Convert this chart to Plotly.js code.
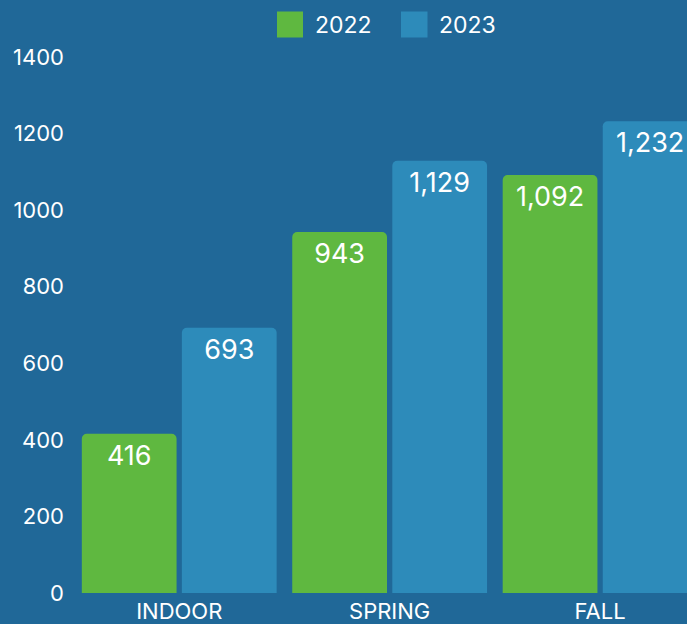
<!DOCTYPE html>
<html><head><meta charset="utf-8">
<script src="https://cdn.plot.ly/plotly-3.0.1.min.js"></script>
<style>html,body{margin:0;padding:0;background:#206898;}#chart{width:687px;height:624px;}</style>
</head><body><div id="chart"></div>
<script>
const categories = ["INDOOR", "SPRING", "FALL"];
const series2022 = [416, 943, 1092];
const series2023 = [693, 1129, 1232];
const seriesNames = ["2022", "2023"];
const yTicks = [0, 200, 400, 600, 800, 1000, 1200, 1400];

const green = "#5fb840", blue = "#2d8bba", bg = "#206898";
const font = "Inter, Roboto, 'Liberation Sans', Arial, sans-serif";

const mk = (name, y, color) => ({
  type: "bar", name, x: categories, y,
  marker: {color, line: {width: 0}},
  texttemplate: "%{y:,}", textposition: "inside", insidetextanchor: "end",
  textfont: {color: "#ffffff", size: 27, family: font},
  hoverinfo: "skip", showlegend: false
});

const W = 687, H = 624, L = 74, T = 57, B = 31;
const pw = W - L, ph = H - T - B;
const px = v => (v - L) / pw;
const py = v => (H - B - v) / ph;

const shapes = [
  {type: "rect", xref: "paper", yref: "paper", x0: px(277), x1: px(303), y0: py(37.5), y1: py(11.5), fillcolor: green, line: {width: 0}},
  {type: "rect", xref: "paper", yref: "paper", x0: px(401), x1: px(427.5), y0: py(37.5), y1: py(11.5), fillcolor: blue, line: {width: 0}}
];
const annotations = [
  {xref: "paper", yref: "paper", x: px(313), y: py(24.5), xanchor: "left", yanchor: "middle", text: seriesNames[0], showarrow: false, font: {color: "#fff", size: 23, family: font}},
  {xref: "paper", yref: "paper", x: px(437), y: py(24.5), xanchor: "left", yanchor: "middle", text: seriesNames[1], showarrow: false, font: {color: "#fff", size: 23, family: font}}
];

Plotly.newPlot("chart", [mk(seriesNames[0], series2022, green), mk(seriesNames[1], series2023, blue)], {
  width: W, height: H,
  margin: {l: L, r: 0, t: T, b: B, pad: 0},
  paper_bgcolor: bg, plot_bgcolor: bg,
  barmode: "group", bargap: 0.049, bargroupgap: 0.053, barcornerradius: 5,
  separators: ".,",
  font: {family: font, color: "#ffffff"},
  showlegend: false,
  xaxis: {range: [-0.5, 2.413], showgrid: false, zeroline: false, showline: false, ticks: "", automargin: false,
          ticklabelstandoff: 3, tickfont: {size: 22, color: "#fff", family: font}, fixedrange: true},
  yaxis: {range: [0, 1400], tickvals: yTicks, ticktext: yTicks.map(String), showgrid: false, zeroline: false, showline: false,
          ticks: "", automargin: false, ticklabelstandoff: 9, tickfont: {size: 22, color: "#fff", family: font}, fixedrange: true},
  shapes, annotations
}, {displayModeBar: false, staticPlot: true});
</script></body></html>
